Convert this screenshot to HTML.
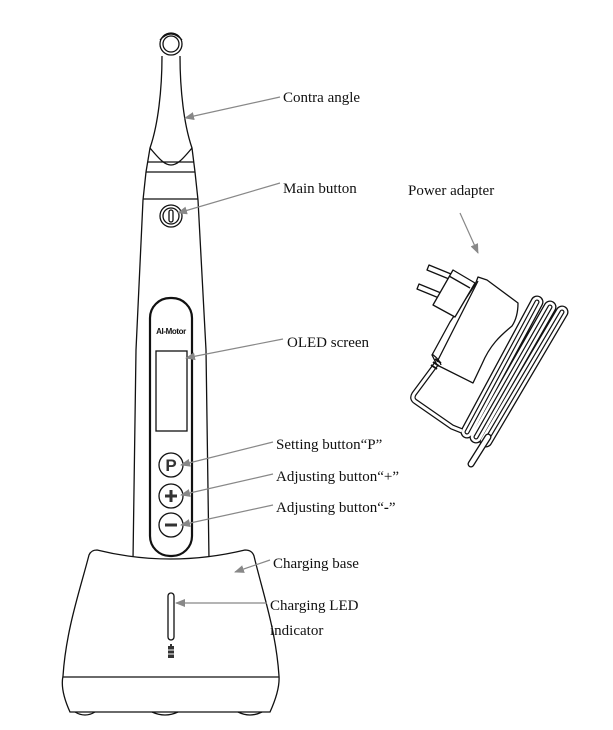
<!DOCTYPE html>
<html><head><meta charset="utf-8"><style>
body{margin:0;background:#fff}
svg{display:block}
text{font-family:"Liberation Serif",serif;font-size:15px;fill:#111}
</style></head><body>
<svg width="613" height="730" viewBox="0 0 613 730" xmlns="http://www.w3.org/2000/svg">
<defs><marker id="a" markerWidth="10" markerHeight="8" refX="9" refY="4" orient="auto" markerUnits="userSpaceOnUse"><path d="M0,0 L10,4 L0,8 Z" fill="#888"/></marker></defs>
<g fill="none" stroke="#111" stroke-width="1.3">
<!-- head -->
<circle cx="171" cy="44" r="11"/><circle cx="171" cy="44" r="8"/>
<path d="M160,40 Q171,28 182,40"/>
<!-- contra angle -->
<path d="M162,56 C162,90 158,125 150,148 L146,172 M180,56 C180,90 184,125 192,148 L195,172"/>
<path d="M150,148 C160,160 165,165 171,165 C177,165 182,160 192,148"/>
<path d="M148,162 L194,162 M146,172 L195,172"/>
<!-- body -->
<path d="M146,172 L143,200 L136,350 L133,560 M195,172 L198,200 L206,350 L209,560"/>
<path d="M143,199 L198,199"/>
<circle cx="171" cy="216" r="11"/><circle cx="171" cy="216" r="8"/>
<rect x="169" y="210" width="4" height="12" rx="2"/>
<!-- panel -->
<rect x="150" y="298" width="42" height="258" rx="20" stroke-width="2.2"/>
<rect x="156" y="351" width="31" height="80"/>
<circle cx="171" cy="465" r="12"/><circle cx="171" cy="496" r="12"/><circle cx="171" cy="525" r="12"/>
<!-- base -->
<path d="M97,550 Q170,568 245,550 Q252,550 254,556 C262,590 276,630 279,676 Q280,690 270,712 L70,712 Q60,690 63,676 C66,630 80,590 89,555 Q91,550 97,550 Z" fill="#fff"/>
<path d="M63,677 L279,677"/>
<path d="M75,712 Q85,718 95,712 M152,712 Q165,718 178,712 M238,712 Q250,718 262,712"/>
<rect x="168" y="593" width="6" height="47" rx="3"/>
</g>
<text x="171" y="334" text-anchor="middle" style="font-family:'Liberation Sans',sans-serif;font-size:8px;font-weight:bold;letter-spacing:-0.4px">AI-Motor</text>
<text x="171" y="471" text-anchor="middle" style="font-family:'Liberation Sans',sans-serif;font-size:17px;font-weight:bold;fill:#333">P</text>
<path d="M171,490 v12 M165,496 h12 M165,525 h12" stroke="#333" stroke-width="3"/>
<rect x="168" y="646" width="6" height="12" fill="#333"/><rect x="170" y="644" width="2" height="2" fill="#333"/>
<path d="M168,650 h6 M168,654 h6" stroke="#fff" stroke-width="1"/>
<!-- adapter -->
<g fill="none" stroke="#111" stroke-width="1.3" stroke-linejoin="round">
<path d="M467,432 L537,302 M476,437 L550,307 M486,441 L562,312" stroke="#111" stroke-width="13" stroke-linecap="round"/>
<path d="M467,432 L537,302 M476,437 L550,307 M486,441 L562,312" stroke="#fff" stroke-width="10.4" stroke-linecap="round"/>
<path d="M467,432 L537,302 M476,437 L550,307 M486,441 L562,312" stroke="#111" stroke-width="5" stroke-linecap="round"/>
<path d="M467,432 L537,302 M476,437 L550,307 M486,441 L562,312" stroke="#fff" stroke-width="2.6" stroke-linecap="round"/>
<path d="M437,363 L414,394 Q411,399 416,402 L452,427 L462,431" stroke="#111" stroke-width="5.5"/>
<path d="M437,363 L414,394 Q411,399 416,402 L452,427 L462,431" stroke="#fff" stroke-width="3"/>
<path d="M488,437 L471,464" stroke="#111" stroke-width="7" stroke-linecap="round"/>
<path d="M488,437 L471,464" stroke="#fff" stroke-width="4.4" stroke-linecap="round"/>
<path d="M478,277 L487,280 L518,303 C518,312 516,320 512,326 C500,336 490,345 482,364 L473,383 L437,365 L432,355 L450,322 L475,285 Z" fill="#fff"/>
<path d="M437,362 L478,281 M432,354 Q440,360 441,365"/>
<!-- prongs -->
<path d="M429,265 L451,274 L449,279 L427,270 Z M419,284 L441,293 L439,298 L417,289 Z" fill="#fff"/>
<path d="M453,270 L475,283 L455,317 L433,305 Z" fill="#fff"/>
<path d="M449,276 L470,288"/>
<path d="M433,362 l6,4 M431,365 l6,4 M435,359 l6,4" stroke-width="1.8"/>
</g>
<!-- leaders -->
<g stroke="#888" stroke-width="1.2" fill="none" marker-end="url(#a)">
<line x1="280" y1="97" x2="185" y2="118"/>
<line x1="280" y1="183" x2="178" y2="213"/>
<line x1="460" y1="213" x2="478" y2="253"/>
<line x1="283" y1="339" x2="186" y2="358"/>
<line x1="273" y1="442" x2="181" y2="465"/>
<line x1="273" y1="474" x2="181" y2="495"/>
<line x1="273" y1="505" x2="181" y2="525"/>
<line x1="270" y1="560" x2="235" y2="572"/>
<line x1="267" y1="603" x2="176" y2="603"/>
</g>
<text x="283" y="102">Contra angle</text>
<text x="283" y="193">Main button</text>
<text x="408" y="195">Power adapter</text>
<text x="287" y="347">OLED screen</text>
<text x="276" y="449">Setting button“P”</text>
<text x="276" y="481">Adjusting button“+”</text>
<text x="276" y="512">Adjusting button“<tspan font-weight="bold">-</tspan>”</text>
<text x="273" y="568">Charging base</text>
<text x="270" y="610">Charging LED</text>
<text x="270" y="635">indicator</text>
</svg>
</body></html>
